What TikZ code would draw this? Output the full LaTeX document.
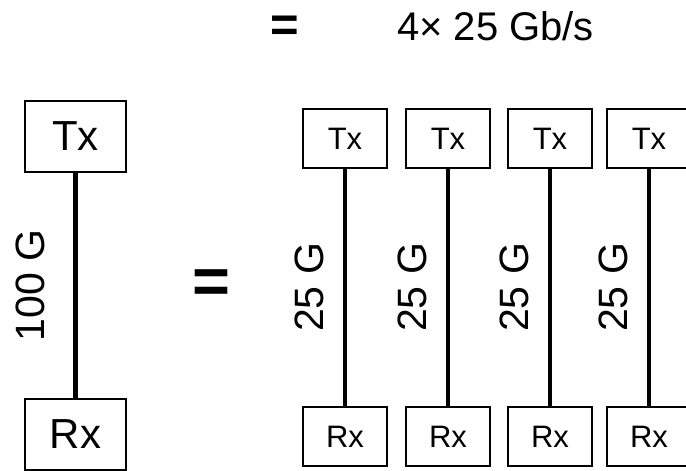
\documentclass[tikz,border=0pt]{standalone}
\usepackage{fontspec}
\setmainfont{Liberation Sans}
\usetikzlibrary{positioning}
\tikzset{
  wide box/.style={
    draw, line width=1.3pt,
    minimum width=101pt, minimum height=71pt,
    inner sep=0pt, font=\fontsize{42}{50}\selectfont
  },
  lane box/.style={
    draw, line width=1.3pt,
    minimum width=84pt, minimum height=59pt,
    inner sep=0pt, font=\fontsize{31}{37}\selectfont
  },
  wide link/.style={line width=5pt},
  lane link/.style={line width=4pt},
  rate/.style={rotate=90, inner sep=0pt, font=\fontsize{41}{49}\selectfont},
  equals/.style={inner sep=0pt, font=\bfseries\fontsize{#1}{#1}\selectfont}
}

\begin{document}
\begin{tikzpicture}[x=1pt, y=-1pt]
  \useasboundingbox (0,0) rectangle (686,471);

  % heading
  \node[equals=49] (eqtop) at (285, 29) {=};
  \node[anchor=base, inner sep=0pt, font=\fontsize{40}{48}\selectfont] (total) at (495.5, 40) {4× 25 Gb/s};

  % single 100G link
  \node[wide box] (tx) at (75.5, 136.5) {Tx};
  \node[wide box] (rx) at (75.5, 434.5) {Rx};
  \draw[wide link] (tx) -- node[rate, yshift=45pt] {100 G} (rx);

  \node[equals=65] (eq) at (211, 287) {=};

  % four 25G lanes
  \foreach \i/\x in {1/345, 2/448, 3/550, 4/649} {
    \node[lane box] (tx\i) at (\x, 138.5) {Tx};
    \node[lane box] (rx\i) at (\x, 436.5) {Rx};
    \draw[lane link] (tx\i) -- node[rate, yshift=36pt] {25 G} (rx\i);
  }
\end{tikzpicture}
\end{document}
